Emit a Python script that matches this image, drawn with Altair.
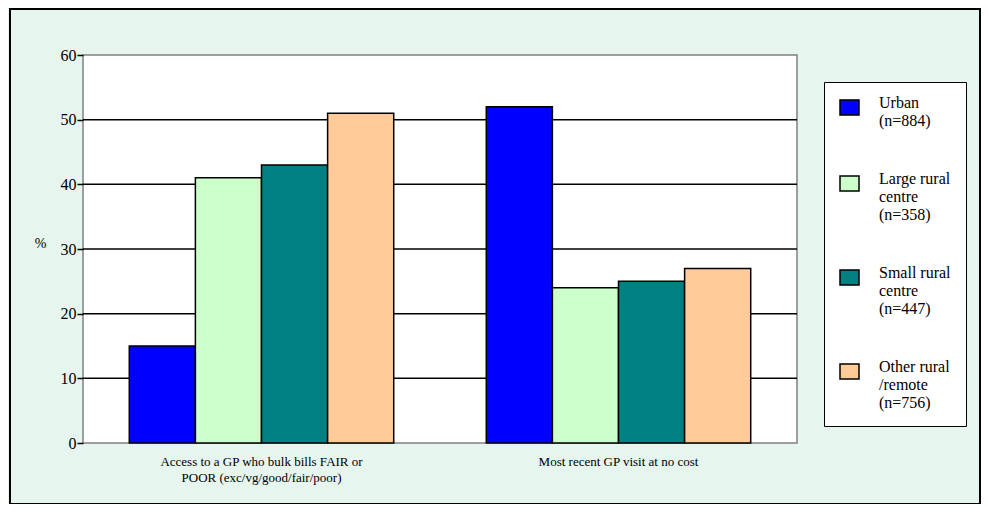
import altair as alt
import pandas as pd

categories = [
    "Access to a GP who bulk bills FAIR or|POOR (exc/vg/good/fair/poor)",
    "Most recent GP visit at no cost",
]
series = [
    "Urban|(n=884)",
    "Large rural|centre|(n=358)",
    "Small rural|centre|(n=447)",
    "Other rural|/remote|(n=756)",
]
colors = ["#0000FF", "#CCFFCC", "#008080", "#FFCC99"]
urban = [15, 52]
large_rural = [41, 24]
small_rural = [43, 25]
other_rural = [51, 27]
y_ticks = [0, 10, 20, 30, 40, 50, 60]
grid_vals = [10, 20, 30, 40, 50]

rows = []
for s, vals in zip(series, [urban, large_rural, small_rural, other_rural]):
    for c, v in zip(categories, vals):
        rows.append({"category": c, "series": s, "value": v})
df = pd.DataFrame(rows)

FONT = "Liberation Serif"

y_scale = alt.Scale(domain=[0, 60], nice=False)

grid = alt.Chart(pd.DataFrame({"g": grid_vals})).mark_rule(
    color="black", strokeWidth=1.5
).encode(y=alt.Y("g:Q", scale=y_scale))

bars = alt.Chart(df).mark_bar(stroke="black", strokeWidth=1.5).encode(
    x=alt.X(
        "category:N",
        sort=categories,
        scale=alt.Scale(paddingInner=0, paddingOuter=0),
        axis=alt.Axis(
            title=None,
            labelAngle=0,
            ticks=False,
            domain=False,
            labelFont=FONT,
            labelFontSize=13,
            labelColor="black",
            labelPadding=12,
            labelLineHeight=16,
            labelLimit=0,
            labelExpr="split(datum.label, '|')",
        ),
    ),
    xOffset=alt.XOffset(
        "series:N", sort=series, scale=alt.Scale(paddingInner=0, paddingOuter=0.7)
    ),
    y=alt.Y(
        "value:Q",
        scale=y_scale,
        axis=alt.Axis(
            values=y_ticks,
            grid=False,
            domain=False,
            tickSize=6,
            tickColor="black",
            tickWidth=1.5,
            labelPadding=1,
            labelFont=FONT,
            labelFontSize=16,
            labelColor="black",
            title="%",
            titleAngle=0,
            titleX=-43,
            titleY=188,
            titleAlign="center",
            titleBaseline="middle",
            titleFont=FONT,
            titleFontSize=14,
            titleFontWeight="normal",
            titleColor="black",
        ),
    ),
    color=alt.Color(
        "series:N",
        sort=series,
        scale=alt.Scale(domain=series, range=colors),
        legend=alt.Legend(
            title=None,
            orient="none",
            legendX=741,
            legendY=27,
            symbolType="M-1,-0.8H1V0.8H-1Z",
            symbolSize=361,
            symbolStrokeColor="black",
            symbolStrokeWidth=1.5,
            symbolOpacity=1,
            strokeColor="black",
            fillColor="white",
            padding=15,
            rowPadding=41,
            labelFont=FONT,
            labelFontSize=16,
            labelColor="black",
            labelOffset=19,
            labelLimit=0,
            labelBaseline="alphabetic",
            labelExpr="split(datum.label, '|')",
        ),
    ),
)

frame = alt.Chart(alt.Data(values=[{}])).mark_rect(
    fillOpacity=0, stroke="black", strokeWidth=2
).encode(
    x=alt.value(-73), x2=alt.value(897), y=alt.value(-46), y2=alt.value(449)
)

chart = alt.layer(grid, bars, frame).properties(
    width=714,
    height=388,
    autosize=alt.AutoSizeParams(type="none"),
    padding={"left": 75, "top": 47, "right": 184, "bottom": 61},
    background="#E6F5EE",
).configure_view(stroke="#808080", strokeWidth=1.5, fill="white")

chart.save("out.html", embed_options={"renderer": "svg", "actions": False})
